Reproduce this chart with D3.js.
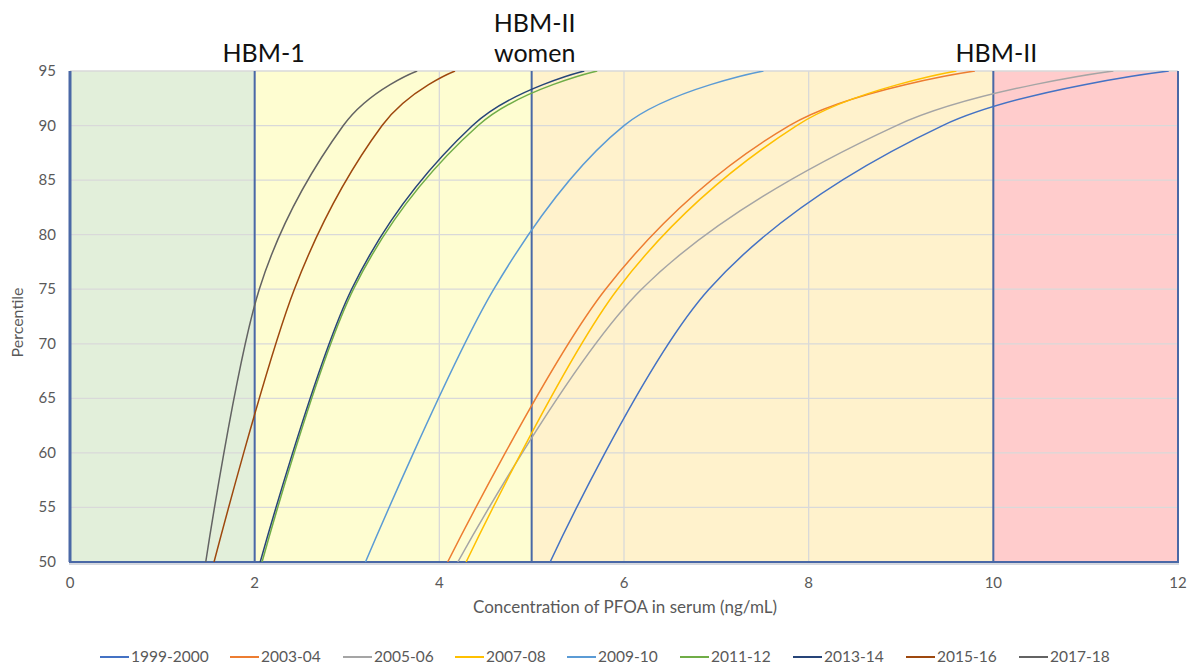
<!DOCTYPE html>
<html>
<head>
<meta charset="utf-8">
<script src="https://cdn.jsdelivr.net/npm/d3@7"></script>
<style>
  html, body { margin: 0; padding: 0; background: #ffffff; }
  svg { display: block; font-family: Lato, "Open Sans", sans-serif; }
</style>
</head>
<body>
<svg id="chart" width="1187" height="665"></svg>
<script>
// ---------- DATA ----------
const percentiles = [50, 75, 90, 95];
const seriesNames = ["1999-2000", "2003-04", "2005-06", "2007-08", "2009-10", "2011-12", "2013-14", "2015-16", "2017-18"];
const s1999_2000 = [5.20, 6.92, 9.45, 11.90];
const s2003_04   = [4.09, 5.80, 7.79, 9.80];
const s2005_06   = [4.20, 6.19, 8.95, 11.30];
const s2007_08   = [4.29, 5.93, 7.87, 9.60];
const s2009_10   = [3.20, 4.59, 6.00, 7.51];
const s2011_12   = [2.08, 3.07, 4.42, 5.71];
const s2013_14   = [2.06, 3.05, 4.36, 5.57];
const s2015_16   = [1.56, 2.43, 3.38, 4.17];
const s2017_18   = [1.47, 2.05, 2.96, 3.76];
const seriesValues = [s1999_2000, s2003_04, s2005_06, s2007_08, s2009_10, s2011_12, s2013_14, s2015_16, s2017_18];
const xTicks = [0, 2, 4, 6, 8, 10, 12];
const yTicks = [50, 55, 60, 65, 70, 75, 80, 85, 90, 95];
const bandStarts = [0, 2, 5, 10];
const bandEnds = [2, 5, 10, 12];
const bandLabels = [["HBM-1"], ["HBM-II", "women"], ["HBM-II"]];
const bandLabelAt = [2, 5, 10];

// ---------- STYLE ----------
const colors = ["#4472C4", "#ED7D31", "#A5A5A5", "#FFC000", "#5B9BD5", "#70AD47", "#264478", "#9E480E", "#636363"];
const bandColors = ["#e2efda", "#fefdd1", "#fff2cc", "#ffcccc"];
const mLeft = 70, mRight = 1178, mTop = 71, mBottom = 562;

const svg = d3.select("#chart");
const x = d3.scaleLinear().domain([0, 12]).range([mLeft, mRight]);
const y = d3.scaleLinear().domain([50, 95]).range([mBottom, mTop]);

svg.append("defs").append("clipPath").attr("id", "plotclip")
  .append("rect").attr("x", mLeft).attr("y", mTop).attr("width", mRight - mLeft).attr("height", mBottom - mTop);

// bands
svg.append("g").selectAll("rect").data(bandStarts).join("rect")
  .attr("x", (d) => x(d))
  .attr("y", mTop)
  .attr("width", (d, i) => x(bandEnds[i]) - x(d))
  .attr("height", mBottom - mTop)
  .attr("fill", (d, i) => bandColors[i]);

// gridlines
const grid = svg.append("g");
grid.selectAll("line.h").data(yTicks.filter(v => v > 50)).join("line")
  .attr("class", "h")
  .attr("x1", mLeft).attr("x2", mRight)
  .attr("y1", d => y(d)).attr("y2", d => y(d))
  .attr("stroke", "#d9d9d9").attr("stroke-width", 1.3);
grid.selectAll("line.v").data(xTicks.filter(v => v > 0 && v < 12)).join("line")
  .attr("class", "v")
  .attr("x1", d => x(d)).attr("x2", d => x(d))
  .attr("y1", mTop).attr("y2", mBottom)
  .attr("stroke", "#d9d9d9").attr("stroke-width", 1.3);

// band borders
const borders = svg.append("g");
borders.selectAll("line").data([0, 2, 5, 10, 12]).join("line")
  .attr("x1", d => x(d)).attr("x2", d => x(d))
  .attr("y1", mTop).attr("y2", mBottom)
  .attr("stroke", "#4a68a6")
  .attr("stroke-width", d => d === 0 ? 3 : 2);
borders.append("line")
  .attr("x1", mLeft - 1).attr("x2", mRight + 1)
  .attr("y1", mBottom + 2).attr("y2", mBottom + 2)
  .attr("stroke", "#c8ccd6").attr("stroke-width", 1.5);
borders.append("line")
  .attr("x1", mLeft - 1).attr("x2", mRight + 1)
  .attr("y1", mBottom).attr("y2", mBottom)
  .attr("stroke", "#4a68a6").attr("stroke-width", 2);

// curves
const line = d3.line()
  .x(d => x(d[0]))
  .y(d => y(d[1]))
  .curve(d3.curveCatmullRom.alpha(0));
const curves = svg.append("g").attr("clip-path", "url(#plotclip)");
curves.selectAll("path").data(seriesValues).join("path")
  .attr("d", vals => line(vals.map((v, i) => [v, percentiles[i]])))
  .attr("fill", "none")
  .attr("stroke", (d, i) => colors[i])
  .attr("stroke-width", 1.5);

// axis labels
const axisColor = "#595959";
svg.append("g").selectAll("text").data(yTicks).join("text")
  .attr("x", mLeft - 14).attr("y", d => y(d) + 5)
  .attr("text-anchor", "end")
  .attr("font-size", 15).attr("fill", axisColor)
  .text(d => d);
svg.append("g").selectAll("text").data(xTicks).join("text")
  .attr("x", d => x(d)).attr("y", mBottom + 26)
  .attr("text-anchor", "middle")
  .attr("font-size", 15).attr("fill", axisColor)
  .text(d => d);

svg.append("text")
  .attr("x", 625).attr("y", 613)
  .attr("text-anchor", "middle")
  .attr("font-size", 17).attr("fill", axisColor)
  .text("Concentration of PFOA in serum (ng/mL)");
svg.append("text")
  .attr("transform", `translate(23, ${(mTop + mBottom) / 2 + 6}) rotate(-90)`)
  .attr("text-anchor", "middle")
  .attr("font-size", 16).attr("fill", axisColor)
  .text("Percentile");

// band labels
const lbl = svg.append("g");
bandLabels.forEach((lines, i) => {
  const n = lines.length;
  lines.forEach((t, j) => {
    lbl.append("text")
      .attr("x", x(bandLabelAt[i]) + (i === 0 ? 9 : 3))
      .attr("y", 62 - (n - 1 - j) * 30)
      .attr("text-anchor", "middle")
      .attr("font-size", 25).attr("fill", "#111")
      .text(t);
  });
});

// legend
const legendX0 = 100, legendY = 657;
const itemW = [130, 113, 112, 112, 113, 113, 113, 113, 113];
let lx = legendX0;
const leg = svg.append("g");
seriesNames.forEach((name, i) => {
  leg.append("line")
    .attr("x1", lx).attr("x2", lx + 29)
    .attr("y1", legendY).attr("y2", legendY)
    .attr("stroke", colors[i]).attr("stroke-width", 2);
  leg.append("text")
    .attr("x", lx + 31).attr("y", legendY + 5)
    .attr("font-size", 15.5).attr("fill", axisColor)
    .text(name);
  lx += itemW[i];
});
</script>
</body>
</html>
